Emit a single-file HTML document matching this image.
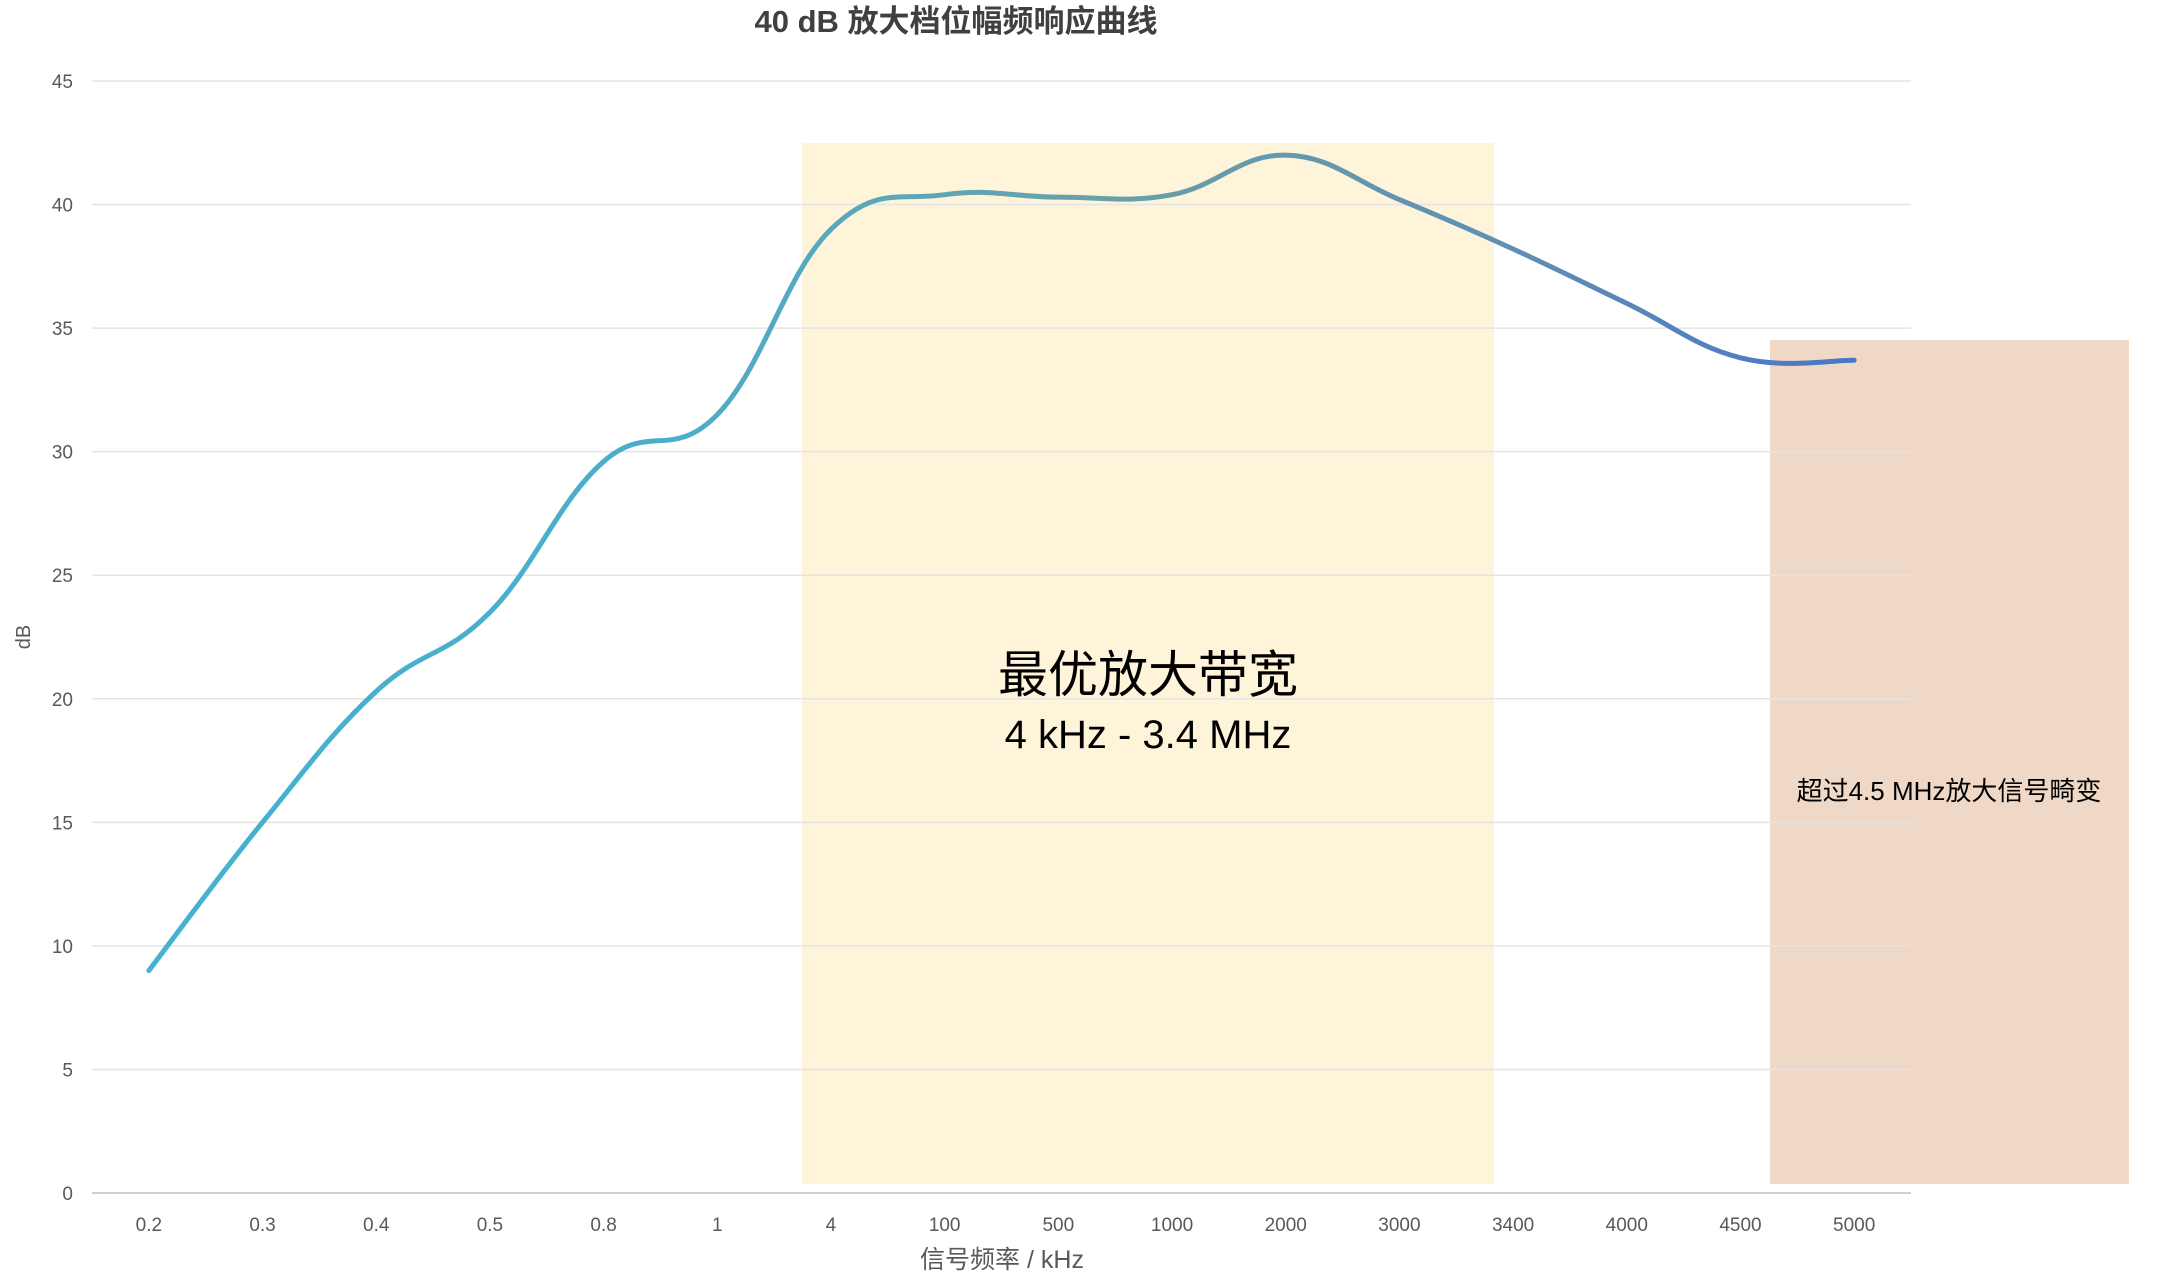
<!DOCTYPE html>
<html><head><meta charset="utf-8"><style>
html,body{margin:0;padding:0;background:#fff;}
svg{display:block;font-family:"Liberation Sans","Noto Sans CJK SC",sans-serif;}
</style></head><body>
<svg id="chart" width="2160" height="1276" viewBox="0 0 2160 1276">
<defs>
<linearGradient id="lg" x1="0" y1="0" x2="1" y2="0">
<stop offset="0" stop-color="#45b2cf"/>
<stop offset="0.3" stop-color="#4aaecb"/>
<stop offset="0.55" stop-color="#6aa0a8"/>
<stop offset="0.8" stop-color="#5f8fb5"/>
<stop offset="1" stop-color="#4a76c6"/>
</linearGradient>
</defs>
<rect x="802" y="143" width="692" height="1041" fill="#fdf4d9"/>
<rect x="1770" y="340" width="359" height="844" fill="#efd8c6"/>
<g id="grid"></g>
<g id="ylabels"></g>
<g id="xlabels"></g>
<path id="line" fill="none" stroke="url(#lg)" stroke-width="5" stroke-linecap="round"/>
<text x="956" y="32" text-anchor="middle" font-size="31" font-weight="bold" fill="#404040">40 dB 放大档位幅频响应曲线</text>
<text x="30" y="637" text-anchor="middle" font-size="20" fill="#595959" transform="rotate(-90 30 637)">dB</text>
<text x="1002" y="1292" text-anchor="middle" font-size="25" fill="#595959" transform="translate(0,-24)">信号频率 / kHz</text>
<text x="1148" y="692" text-anchor="middle" font-size="50" fill="#000">最优放大带宽</text>
<text x="1148" y="748" text-anchor="middle" font-size="40" fill="#000">4 kHz - 3.4 MHz</text>
<text x="1949" y="800" text-anchor="middle" font-size="26" fill="#000">超过4.5 MHz放大信号畸变</text>
</svg>
<script>
const categories=["0.2","0.3","0.4","0.5","0.8","1","4","100","500","1000","2000","3000","3400","4000","4500","5000"];
const values=[9,15,20.3,23.5,29.6,31.5,39,40.4,40.3,40.4,42,40.2,38.2,36,33.8,33.7];
const yTicks=[0,5,10,15,20,25,30,35,40,45];
const NS="http://www.w3.org/2000/svg";
const X0=92,X1=1911,Y0=1193,Y1=81,YMAX=45;
const bw=(X1-X0)/categories.length;
function xs(i){return X0+bw*(i+0.5);}
function ys(v){return Y0-(v/YMAX)*(Y0-Y1);}
const grid=document.getElementById('grid'),yl=document.getElementById('ylabels'),xl=document.getElementById('xlabels');
yTicks.forEach(t=>{
 const l=document.createElementNS(NS,'line');
 l.setAttribute('x1',X0);l.setAttribute('x2',X1);l.setAttribute('y1',ys(t));l.setAttribute('y2',ys(t));
 l.setAttribute('stroke',t===0?'#d0d0d0':'#e4e4e4');l.setAttribute('stroke-width',t===0?2:1.5);
 
 
 grid.appendChild(l);
 const tx=document.createElementNS(NS,'text');
 tx.setAttribute('x',73);tx.setAttribute('y',ys(t)+7);tx.setAttribute('text-anchor','end');
 tx.setAttribute('font-size','19');tx.setAttribute('fill','#595959');tx.textContent=t;
 
 
 yl.appendChild(tx);
});
categories.forEach((c,i)=>{
 const tx=document.createElementNS(NS,'text');
 tx.setAttribute('x',xs(i));tx.setAttribute('y',1231);tx.setAttribute('text-anchor','middle');
 tx.setAttribute('font-size','19');tx.setAttribute('fill','#595959');tx.textContent=c;
 
 
 xl.appendChild(tx);
});
const pts=values.map((v,i)=>[xs(i),ys(v)]);
let d='M'+pts[0][0]+','+pts[0][1];
for(let i=0;i<pts.length-1;i++){
 const p0=pts[i-1]||pts[i],p1=pts[i],p2=pts[i+1],p3=pts[i+2]||p2;
 const t=0.2;
 const c1=[p1[0]+(p2[0]-p0[0])*t,p1[1]+(p2[1]-p0[1])*t];
 const c2=[p2[0]-(p3[0]-p1[0])*t,p2[1]-(p3[1]-p1[1])*t];
 d+=' C'+c1[0]+','+c1[1]+' '+c2[0]+','+c2[1]+' '+p2[0]+','+p2[1];
}
document.getElementById('line').setAttribute('d',d);
</script>
</body></html>
